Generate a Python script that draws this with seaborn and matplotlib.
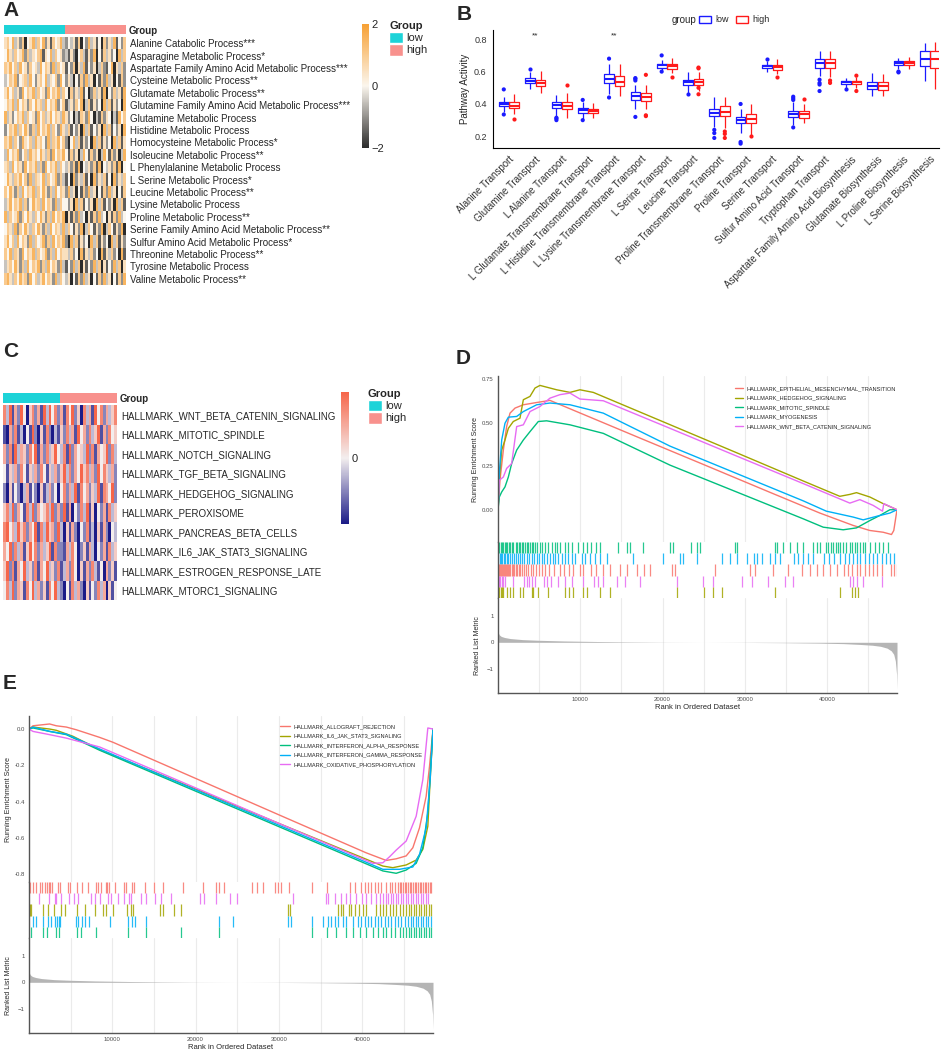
import numpy as np
import pandas as pd
import matplotlib
matplotlib.use('Agg')
import matplotlib.pyplot as plt
from matplotlib.colors import LinearSegmentedColormap, ListedColormap
from matplotlib.patches import Patch
from matplotlib.ticker import FormatStrFormatter
import seaborn as sns

sns.set_theme(style='white')
plt.rcParams['font.family'] = ['Liberation Sans', 'DejaVu Sans']

# ==================== data: panel A (amino acid metabolism heatmap) ====================
rows_a = ['Alanine Catabolic Process***', 'Asparagine Metabolic Process*',
          'Aspartate Family Amino Acid Metabolic Process***', 'Cysteine Metabolic Process**',
          'Glutamate Metabolic Process**', 'Glutamine Family Amino Acid Metabolic Process***',
          'Glutamine Metabolic Process', 'Histidine Metabolic Process',
          'Homocysteine Metabolic Process*', 'Isoleucine Metabolic Process**',
          'L Phenylalanine Metabolic Process', 'L Serine Metabolic Process*',
          'Leucine Metabolic Process**', 'Lysine Metabolic Process', 'Proline Metabolic Process**',
          'Serine Family Amino Acid Metabolic Process**', 'Sulfur Amino Acid Metabolic Process*',
          'Threonine Metabolic Process**', 'Tyrosine Metabolic Process', 'Valine Metabolic Process**']
# one digit per sample (low samples, then high samples)
heat_a_low = ["675846371568475836275684", "586475683746578265847563", "768574856375648576384756",
              "457683567485367584657385", "685746385768475638576847", "576848576375867485768357",
              "846357684756385746857648", "357684758637485768475386", "768475386574867538476857",
              "485768357486758647385768", "674857638576847385768475", "586476857384765847568374",
              "758637485768475863748576", "468576847358674857638475", "847568375864758637485768",
              "576483758647586374857648", "685748576384756837485768", "758476385768475683748576",
              "467586374857683748576384", "786475867385746857638475"]
heat_a_high = ["354627153846251736482537", "426315742638152746351847", "253716482536147325816473",
               "364152738461527384615273", "517364825137462815374628", "246375814726351847263518",
               "635142763851427365142857", "472536184725361847253618", "315847263518472635184726",
               "527361485273614852736148", "463728154637281546372815", "251836472518364725183647",
               "384615273846152738461527", "536184725361847253618472", "162738451627384516273845",
               "475263814752638147526381", "318472635184726351847263", "647351826473518264735182",
               "253847162538471625384716", "461527384615273846152738"]

# ==================== data: panel B (transport / biosynthesis boxplots) ====================
cats_b = ['Alanine Transport', 'Glutamine Transport', 'L Alanine Transport',
          'L Glutamate Transmembrane Transport', 'L Histidine Transmembrane Transport',
          'L Lysine Transmembrane Transport', 'L Serine Transport', 'Leucine Transport',
          'Proline Transmembrane Transport', 'Proline Transport', 'Serine Transport',
          'Sulfur Amino Acid Transport', 'Tryptophan Transport',
          'Aspartate Family Amino Acid Biosynthesis', 'Glutamate Biosynthesis',
          'L Proline Biosynthesis', 'L Serine Biosynthesis']
# [lower whisker, q1, median, q3, upper whisker]
box_low = [[0.35, 0.385, 0.397, 0.41, 0.44], [0.49, 0.53, 0.545, 0.56, 0.60],
           [0.32, 0.375, 0.395, 0.41, 0.455], [0.31, 0.345, 0.36, 0.375, 0.41],
           [0.46, 0.53, 0.555, 0.585, 0.65], [0.37, 0.425, 0.45, 0.475, 0.52],
           [0.61, 0.625, 0.64, 0.65, 0.67], [0.47, 0.515, 0.535, 0.55, 0.595],
           [0.26, 0.325, 0.345, 0.37, 0.445], [0.22, 0.285, 0.30, 0.32, 0.37],
           [0.60, 0.62, 0.632, 0.64, 0.665], [0.27, 0.32, 0.34, 0.355, 0.41],
           [0.57, 0.625, 0.655, 0.68, 0.73], [0.50, 0.525, 0.535, 0.545, 0.56],
           [0.45, 0.495, 0.51, 0.535, 0.59], [0.615, 0.64, 0.655, 0.665, 0.685],
           [0.545, 0.635, 0.675, 0.725, 0.775]]
box_high = [[0.34, 0.375, 0.39, 0.41, 0.46], [0.465, 0.51, 0.53, 0.55, 0.605],
            [0.315, 0.37, 0.39, 0.415, 0.465], [0.315, 0.345, 0.355, 0.37, 0.405],
            [0.45, 0.51, 0.535, 0.57, 0.65], [0.37, 0.42, 0.445, 0.465, 0.52],
            [0.59, 0.615, 0.635, 0.65, 0.685], [0.48, 0.515, 0.535, 0.555, 0.60],
            [0.25, 0.325, 0.35, 0.385, 0.445], [0.21, 0.28, 0.305, 0.335, 0.40],
            [0.585, 0.61, 0.627, 0.64, 0.675], [0.28, 0.315, 0.335, 0.355, 0.40],
            [0.565, 0.625, 0.655, 0.68, 0.73], [0.50, 0.525, 0.535, 0.545, 0.565],
            [0.45, 0.485, 0.51, 0.535, 0.585], [0.615, 0.64, 0.652, 0.665, 0.69],
            [0.495, 0.625, 0.675, 0.725, 0.785]]
out_low = [[0.49, 0.335], [0.615], [0.30, 0.31, 0.315], [0.425, 0.30], [0.68, 0.44],
           [0.545, 0.555, 0.56, 0.32], [0.70, 0.60], [0.46], [0.24, 0.22, 0.19],
           [0.40, 0.165, 0.155], [0.68], [0.425, 0.435, 0.445, 0.255], [0.55, 0.53, 0.52, 0.48],
           [0.49], [], [0.60, 0.595], []]
out_high = [[0.305], [], [0.52], [], [], [0.58, 0.33, 0.325], [0.565], [0.62, 0.625, 0.50, 0.46],
            [0.23, 0.215, 0.19], [0.20], [0.565], [0.43], [0.545, 0.53], [0.575, 0.48], [], [], []]
signif_b = {'Glutamine Transport': '**', 'L Histidine Transmembrane Transport': '**'}

# ==================== data: panel C (hallmark heatmap) ====================
rows_c = ['HALLMARK_WNT_BETA_CATENIN_SIGNALING', 'HALLMARK_MITOTIC_SPINDLE',
          'HALLMARK_NOTCH_SIGNALING', 'HALLMARK_TGF_BETA_SIGNALING', 'HALLMARK_HEDGEHOG_SIGNALING',
          'HALLMARK_PEROXISOME', 'HALLMARK_PANCREAS_BETA_CELLS', 'HALLMARK_IL6_JAK_STAT3_SIGNALING',
          'HALLMARK_ESTROGEN_RESPONSE_LATE', 'HALLMARK_MTORC1_SIGNALING']
heat_c_low = ["73816284057261838472", "10627130418205172031", "62718365274816273584",
              "41536274153627415362", "20514203614205136240", "57382641738264573826",
              "78463857264817385628", "64827361584726358172", "58271648352716483527",
              "47382651748362517483"]
heat_c_high = ["61748250736184726357", "52736184627358162745", "37182645382716458273",
               "58372648573628475362", "47263817462538176482", "28160427381504261735",
               "30516204271305162043", "21637402516304261735", "13627405162731406251",
               "20417362051427360514"]

# ==================== data: panels D / E (GSEA) ====================
# running enrichment score: (rank in thousands, ES)
d_emt = [(0, 0), (0.24, 0.169), (0.65, 0.342), (1.05, 0.477), (1.46, 0.554), (2.07, 0.583),
         (3.08, 0.602), (4.7, 0.615), (6.32, 0.627), (8.75, 0.579), (16.85, 0.419), (24.95, 0.26),
         (33.05, 0.10), (39.12, -0.019), (43.17, -0.09), (45.2, -0.119), (46.82, -0.129),
         (47.83, -0.142), (48.11, -0.119), (48.5, 0)]
d_hedgehog = [(0, 0), (0.16, 0.169), (0.45, 0.342), (0.85, 0.40), (1.26, 0.467), (1.86, 0.506),
              (2.67, 0.525), (3.08, 0.631), (3.89, 0.65), (4.5, 0.698), (5.1, 0.713), (7.13, 0.688),
              (8.75, 0.673), (9.96, 0.688), (11.58, 0.673), (20.9, 0.488), (29.0, 0.327),
              (37.1, 0.165), (41.55, 0.077), (42.77, 0.088), (43.58, 0.098), (45.2, 0.073),
              (46.82, 0.035), (48.5, 0)]
d_mitotic = [(0, 0), (0.16, 0.073), (0.45, 0.102), (0.85, 0.131), (1.26, 0.188), (1.66, 0.265),
             (2.27, 0.342), (3.08, 0.40), (3.89, 0.448), (4.9, 0.506), (5.91, 0.51), (8.75, 0.487),
             (12.8, 0.438), (20.9, 0.256), (29.0, 0.102), (37.1, -0.052), (39.53, -0.10),
             (41.96, -0.115), (43.58, -0.104), (45.2, -0.062), (46.41, -0.033), (47.63, 0),
             (48.5, 0)]
d_myogenesis = [(0, 0), (0.16, 0.208), (0.45, 0.40), (0.85, 0.496), (1.26, 0.531), (2.27, 0.535),
                (3.08, 0.563), (4.7, 0.602), (6.32, 0.612), (8.75, 0.602), (12.8, 0.554),
                (20.9, 0.365), (29.0, 0.208), (37.1, 0.051), (39.9, -0.008), (43.17, -0.042),
                (44.39, -0.058), (46.0, -0.038), (47.63, -0.019), (48.5, 0)]
d_wnt = [(0, 0), (0.16, 0.169), (0.65, 0.188), (1.05, 0.237), (1.66, 0.265), (2.27, 0.477),
         (3.08, 0.487), (3.89, 0.563), (5.1, 0.592), (6.32, 0.64), (7.53, 0.66), (8.75, 0.669),
         (9.96, 0.635), (12.8, 0.625), (20.9, 0.467), (29.0, 0.308), (37.1, 0.15), (42.77, 0.038),
         (43.98, 0.058), (45.6, 0.025), (46.74, -0.008), (46.9, 0.035), (48.5, 0)]

e_allograft = [(0, 0), (0.48, 0.018), (2.48, 0.028), (3.28, 0.018), (4.48, 0.011), (5.68, -0.004),
               (8.48, -0.046), (10.08, -0.073), (20.48, -0.282), (30.48, -0.483), (40.48, -0.683),
               (42.88, -0.725), (44.08, -0.716), (45.28, -0.70), (46.08, -0.655), (46.88, -0.545),
               (47.68, -0.371), (48.08, -0.206), (48.5, 0)]
e_il6 = [(0, 0), (0.48, 0.011), (2.48, 0), (3.28, -0.007), (5.28, -0.04), (8.48, -0.114),
         (20.48, -0.34), (30.48, -0.53), (42.48, -0.756), (43.68, -0.765), (45.28, -0.75),
         (46.48, -0.723), (47.28, -0.664), (47.88, -0.536), (48.16, -0.279), (48.5, 0)]
e_ifna = [(0, 0), (0.48, 0.006), (2.48, -0.013), (4.48, -0.031), (8.48, -0.117), (20.48, -0.352),
          (30.48, -0.548), (42.48, -0.783), (44.08, -0.796), (45.28, -0.778), (46.48, -0.741),
          (47.28, -0.655), (47.88, -0.462), (48.5, 0)]
e_ifng = [(0, 0), (0.48, 0.011), (2.48, -0.013), (4.48, -0.028), (8.48, -0.11), (20.48, -0.345),
          (30.48, -0.54), (42.48, -0.774), (44.48, -0.774), (46.08, -0.761), (46.88, -0.692),
          (47.68, -0.545), (48.16, -0.279), (48.5, 0)]
e_oxphos = [(0, 0), (0.48, -0.013), (2.48, -0.031), (4.48, -0.05), (8.48, -0.099), (20.48, -0.334),
            (30.48, -0.53), (41.28, -0.741), (42.48, -0.738), (43.28, -0.705), (44.08, -0.668),
            (45.28, -0.618), (46.48, -0.481), (47.28, -0.279), (47.88, 0.006), (48.5, 0)]

# gene-set hits (rank in thousands)
hits_d_mitotic = [0.04, 0.16, 0.32, 0.49, 0.65, 0.85, 0.97, 1.13, 1.3, 1.46, 1.66, 1.86, 2.19, 2.35,
                  2.51, 2.67, 2.88, 3.08, 3.28, 3.48, 3.69, 3.89, 4.09, 4.29, 4.5, 4.7, 5.1, 5.31,
                  5.71, 6.12, 6.52, 6.93, 7.21, 7.53, 8.14, 8.55, 8.95, 9.76, 10.29, 10.77, 11.26,
                  11.91, 12.39, 14.62, 15.63, 16.04, 17.66, 20.9, 21.3, 23.41, 24.14, 24.54, 28.8,
                  29.0, 33.66, 33.86, 34.67, 35.48, 36.29, 37.1, 38.31, 38.72, 39.12, 39.85, 40.14,
                  40.42, 40.74, 41.07, 41.35, 41.63, 41.96, 42.36, 42.77, 43.09, 43.38, 43.66, 43.98,
                  44.31, 44.59, 45.2, 45.81, 46.33, 46.82, 47.43]
hits_d_myogenesis = [0.04, 0.2, 0.36, 0.53, 0.69, 0.89, 1.05, 1.26, 1.46, 1.7, 1.94, 2.19, 2.47,
                     2.67, 2.96, 3.2, 3.48, 3.81, 4.09, 4.37, 4.7, 5.02, 5.31, 5.59, 5.91, 6.32,
                     6.64, 6.97, 7.33, 7.73, 8.14, 8.55, 8.95, 9.36, 10.17, 10.57, 11.18, 11.79,
                     12.39, 13.2, 16.44, 20.09, 22.11, 22.52, 24.14, 27.18, 28.19, 29.0, 30.21, 31.1,
                     31.51, 32.04, 33.05, 33.66, 34.27, 35.97, 36.5, 37.1, 37.71, 38.31, 39.61,
                     40.26, 40.82, 41.63, 42.16, 42.69, 43.17, 43.58, 44.06, 44.59, 45.11, 45.6,
                     46.09, 46.62, 47.14, 47.63, 48.11]
hits_d_emt = [0.04, 0.16, 0.28, 0.41, 0.53, 0.65, 0.77, 0.89, 1.01, 1.13, 1.26, 1.38, 1.5, 1.66,
              1.82, 1.98, 2.15, 2.31, 2.51, 2.71, 2.92, 3.16, 3.4, 3.69, 3.97, 4.29, 4.62, 4.98,
              5.35, 5.75, 6.16, 6.8, 7.53, 8.02, 8.59, 9.15, 9.96, 10.37, 11.26, 11.91, 12.72,
              13.61, 14.82, 15.63, 16.93, 17.74, 18.47, 21.1, 21.51, 26.37, 30.62, 31.23, 33.46,
              35.28, 36.9, 37.91, 38.72, 39.53, 40.34, 41.15, 42.04, 42.57, 43.09, 43.58, 44.06,
              44.59, 45.11, 45.6, 46.09, 46.62, 47.83, 48.11, 48.44]
hits_d_wnt = [0.08, 0.24, 0.45, 0.65, 0.89, 1.86, 3.16, 3.48, 3.81, 4.13, 4.54, 5.59, 5.99, 6.4,
              7.33, 8.14, 8.95, 10.37, 11.66, 12.19, 12.72, 14.42, 15.43, 17.25, 21.71, 24.95,
              26.16, 29.61, 30.82, 32.85, 34.87, 35.88, 42.77, 43.17, 43.58, 44.39, 46.62]
hits_d_hedgehog = [0.04, 0.16, 0.32, 0.49, 0.65, 1.05, 1.46, 1.78, 2.67, 3.08, 4.09, 4.29, 4.9,
                   6.12, 8.14, 8.67, 9.15, 10.29, 10.77, 12.39, 13.61, 21.79, 25.07, 26.16, 27.26,
                   33.66, 41.63, 42.97, 43.38, 43.78]

hits_e_allograft = [0.08, 0.48, 0.88, 1.28, 1.6, 1.88, 2.16, 2.4, 2.56, 2.8, 3.48, 3.76, 4.68, 4.96,
                    5.76, 6.4, 7.08, 8.08, 8.32, 8.68, 9.2, 9.36, 9.6, 10.28, 11.36, 11.68, 12.4,
                    12.56, 13.88, 14.96, 16.08, 18.48, 20.88, 22.4, 22.8, 23.36, 26.8, 27.36, 28.08,
                    29.48, 29.88, 30.28, 31.2, 34.0, 35.76, 38.48, 39.08, 39.88, 40.28, 40.68, 41.08,
                    41.48, 41.88, 42.28, 42.88, 43.28, 43.6, 43.88, 44.28, 44.48, 44.68, 44.88,
                    45.08, 45.28, 45.48, 45.68, 45.88, 46.08, 46.28, 46.48, 46.68, 46.88, 47.08,
                    47.28, 47.48, 47.68, 47.88, 48.08, 48.3]
hits_e_oxphos = [1.2, 2.4, 3.08, 3.28, 3.88, 4.8, 5.36, 5.88, 7.48, 7.88, 8.48, 9.48, 9.88, 10.68,
                 11.36, 12.0, 12.28, 13.48, 14.08, 15.08, 15.88, 17.08, 20.48, 20.96, 22.4, 24.08,
                 24.96, 31.68, 35.68, 35.88, 36.68, 37.48, 38.08, 38.56, 39.28, 40.0, 40.48, 41.08,
                 41.68, 42.16, 42.5, 42.8, 43.1, 43.4, 43.7, 44.0, 44.3, 44.6, 44.9, 45.2, 45.5,
                 45.8, 46.1, 46.4, 46.7, 47.0, 47.3, 47.6, 47.9]
hits_e_il6 = [0.08, 0.28, 1.68, 2.28, 2.96, 3.88, 4.28, 5.76, 6.68, 7.88, 8.88, 9.2, 10.08, 11.76,
              12.28, 12.48, 15.68, 16.08, 17.36, 18.28, 31.08, 31.36, 37.08, 37.48, 37.68, 38.4,
              38.68, 39.08, 39.6, 40.08, 40.48, 41.68, 42.08, 42.48, 42.88, 43.28, 43.68, 44.08,
              44.48, 44.88, 45.3, 45.6, 45.9, 46.2, 46.5, 46.8, 47.1, 47.4, 47.7, 48.0, 48.3]
hits_e_ifng = [0.48, 0.88, 1.68, 2.28, 2.68, 3.08, 3.36, 3.6, 3.68, 5.6, 5.88, 6.4, 6.68, 7.2, 9.68,
               11.88, 12.4, 12.68, 14.0, 22.8, 24.48, 31.08, 31.48, 34.0, 35.28, 35.88, 36.28,
               36.68, 37.08, 37.68, 38.08, 38.88, 39.48, 39.88, 40.28, 40.68, 41.08, 41.48, 41.88,
               42.28, 42.68, 43.08, 43.48, 43.88, 44.28, 44.68, 45.08, 45.48, 45.8, 46.1, 46.4,
               46.7, 47.0, 47.3, 47.6, 47.9, 48.2]
hits_e_ifna = [0.28, 1.68, 2.2, 3.28, 3.6, 5.8, 6.28, 8.0, 11.88, 14.0, 18.28, 22.8, 34.0, 35.76,
               36.88, 38.08, 38.88, 39.68, 40.48, 41.28, 41.88, 42.48, 42.88, 43.48, 43.88, 44.48,
               44.88, 45.28, 45.6, 45.9, 46.2, 46.5, 46.8, 47.1, 47.4, 47.7, 48.0, 48.3]

# ranked list metric (rank in thousands, metric)
metric_rank = [0, 0.05, 0.15, 0.4, 0.8, 1.5, 3, 5, 8, 12, 16, 20, 25, 30, 35, 39, 42, 44, 45.5,
               46.5, 47.3, 47.8, 48.1, 48.3, 48.45, 48.5]
metric_val = [0.55, 0.35, 0.28, 0.22, 0.18, 0.14, 0.10, 0.075, 0.05, 0.03, 0.015, 0.005, 0.0,
              -0.005, -0.015, -0.03, -0.05, -0.08, -0.11, -0.15, -0.22, -0.32, -0.45, -0.7, -1.2,
              -1.75]
n_genes = 48500

# ==================== colours ====================
c_low, c_high = '#1DD3D8', '#F8918D'
cmap_a = LinearSegmentedColormap.from_list('a', ['#2B2B2B', '#FBF6EE', '#F7A033'])
cmap_c = LinearSegmentedColormap.from_list('c', ['#1B1B87', '#F3EEEE', '#F6664A'])
hue5 = ['#F8766D', '#A3A500', '#00BF7D', '#00B0F6', '#E76BF3']
text_grey = '#4D4D4D'

W, H = 941, 1052
fig = plt.figure(figsize=(W / 100, H / 100), dpi=100)


def add_ax(x0, y0, x1, y1):
    # axes from pixel box (top-left origin)
    return fig.add_axes([x0 / W, 1 - y1 / H, (x1 - x0) / W, (y1 - y0) / H])


def digits_to_matrix(low, high, centre):
    mat = [[(int(ch) - centre) / 2 for ch in lo + hi] for lo, hi in zip(low, high)]
    return np.clip(np.array(mat, dtype=float), -2, 2)


def draw_heatmap(box_bar, box_map, box_cbar, low, high, centre, rows, cmap, ticks, fs):
    mat = digits_to_matrix(low, high, centre)
    n_low, n_high = len(low[0]), len(high[0])
    ax_bar = add_ax(*box_bar)
    sns.heatmap(pd.DataFrame([[0] * n_low + [1] * n_high]), cmap=ListedColormap([c_low, c_high]),
                cbar=False, xticklabels=False, yticklabels=['Group'], ax=ax_bar)
    ax_bar.yaxis.tick_right()
    ax_bar.tick_params(axis='y', length=0, pad=2)
    for t in ax_bar.get_yticklabels():
        t.set_rotation(0)
        t.set_fontweight('bold')
        t.set_fontsize(fs)
    ax = add_ax(*box_map)
    cax = add_ax(*box_cbar)
    sns.heatmap(pd.DataFrame(mat, index=rows), cmap=cmap, vmin=-2, vmax=2, ax=ax, cbar_ax=cax,
                xticklabels=False, yticklabels=True)
    ax.yaxis.tick_right()
    ax.tick_params(axis='y', length=0, pad=3, labelsize=fs)
    for t in ax.get_yticklabels():
        t.set_rotation(0)
    cbar = ax.collections[0].colorbar
    cbar.outline.set_visible(False)
    cbar.set_ticks(ticks)
    cax.tick_params(length=0, labelsize=8, pad=2)
    return ax


def group_legend(x, y):
    fig.legend(handles=[Patch(facecolor=c_low, label='low'), Patch(facecolor=c_high, label='high')],
               title='Group', loc='upper left', bbox_to_anchor=(x / W, 1 - y / H), frameon=False,
               fontsize=8, title_fontproperties={'weight': 'bold', 'size': 8}, alignment='left',
               handlelength=1.25, handleheight=1.25, handletextpad=0.3, labelspacing=0.05,
               borderpad=0, borderaxespad=0)


# ==================== A ====================
draw_heatmap((4, 25, 126, 34), (4, 37, 126, 285), (362, 24, 369, 148),
             heat_a_low, heat_a_high, 5, rows_a, cmap_a, [-2, 0, 2], 7)
group_legend(389, 21)

# ==================== B ====================
rec = []
for cat, lo, hi in zip(cats_b, box_low, box_high):
    rec += [(cat, 'low', v) for v in lo] + [(cat, 'high', v) for v in hi]
df_box = pd.DataFrame(rec, columns=['pathway', 'group', 'activity'])
rec = []
for cat, lo, hi in zip(cats_b, out_low, out_high):
    rec += [(cat, 'low', v) for v in lo] + [(cat, 'high', v) for v in hi]
df_out = pd.DataFrame(rec, columns=['pathway', 'group', 'activity'])
pal_b = {'low': '#1A1AFF', 'high': '#FF1A1A'}

ax_b = add_ax(493, 30, 939, 148)
sns.boxplot(data=df_box, x='pathway', y='activity', hue='group', order=cats_b,
            hue_order=['low', 'high'], palette=pal_b, fill=False, whis=(0, 100), width=0.8,
            gap=0.08, showfliers=False, linewidth=0.9, medianprops={'linewidth': 1.5},
            capprops={'linewidth': 0}, legend=False, ax=ax_b)
sns.stripplot(data=df_out, x='pathway', y='activity', hue='group', order=cats_b,
              hue_order=['low', 'high'], palette=pal_b, dodge=True, jitter=False, size=3,
              linewidth=0, legend=False, ax=ax_b)
for i, cat in enumerate(cats_b):
    if cat in signif_b:
        ax_b.text(i, 0.80, signif_b[cat], ha='center', va='bottom', fontsize=6)
ax_b.set_xlim(-0.61, 16.34)
ax_b.set_ylim(0.128, 0.857)
ax_b.set_yticks([0.2, 0.4, 0.6, 0.8])
ax_b.yaxis.set_major_formatter(FormatStrFormatter('%.1f'))
ax_b.set_xlabel('')
ax_b.set_ylabel('Pathway Activity', fontsize=7, labelpad=3)
ax_b.tick_params(axis='both', length=3, width=0.6, labelsize=6.5, colors='#333333', pad=1.5)
plt.setp(ax_b.get_xticklabels(), rotation=45, ha='right', rotation_mode='anchor', fontsize=7)
sns.despine(ax=ax_b)
for s in ('left', 'bottom'):
    ax_b.spines[s].set_color('black')
    ax_b.spines[s].set_linewidth(0.8)
fig.text(672 / W, 1 - 20 / H, 'group', fontsize=7, va='center', ha='left')
ax_b.legend(handles=[Patch(facecolor='white', edgecolor=pal_b['low'], label='low'),
                     Patch(facecolor='white', edgecolor=pal_b['high'], label='high')],
            ncol=2, loc='center left', bbox_to_anchor=(699 / W, 1 - 20 / H),
            bbox_transform=fig.transFigure, frameon=False, fontsize=6.5, handlelength=1.3,
            handleheight=0.9, handletextpad=0.5, columnspacing=0.8, borderpad=0, borderaxespad=0)

# ==================== C ====================
draw_heatmap((3, 393, 117, 403), (3, 405, 117, 600), (341, 392, 349, 524),
             heat_c_low, heat_c_high, 4, rows_c, cmap_c, [0], 7)
group_legend(368, 389)


# ==================== D / E ====================
def gsea_panel(px, es_sets, labels, hit_rows, hit_colors, es_ylim, es_ticks, es_fmt,
               leg_anchor, leg_hl):
    x0, x1, y_top, y_rug, y_met, y_bot = px
    ax_es = add_ax(x0, y_top, x1, y_rug)
    ax_rug = add_ax(x0, y_rug, x1, y_met)
    ax_m = add_ax(x0, y_met, x1, y_bot)

    rec = []
    for name, pts in zip(labels, es_sets):
        rec += [(name, r * 1000, e) for r, e in pts]
    df = pd.DataFrame(rec, columns=['set', 'rank', 'es'])
    sns.lineplot(data=df, x='rank', y='es', hue='set', hue_order=labels, palette=hue5,
                 sort=False, estimator=None, linewidth=1.0, ax=ax_es)
    h, l = ax_es.get_legend_handles_labels()
    ax_es.legend(h, l, loc='upper left', bbox_to_anchor=(leg_anchor[0] / W, 1 - leg_anchor[1] / H),
                 bbox_transform=fig.transFigure, frameon=False, fontsize=4.1,
                 handlelength=leg_hl, handletextpad=0.6, labelspacing=0.8, borderpad=0,
                 borderaxespad=0)

    n = len(hit_rows)
    for i, (hits, col) in enumerate(zip(hit_rows, hit_colors)):
        ax_rug.vlines(np.array(hits) * 1000, n - 1 - i, n - i, color=col, linewidth=0.9, alpha=0.85)
    ax_rug.set_ylim(0, n)

    ax_m.fill_between(np.array(metric_rank) * 1000, 0, metric_val, color='#B5B5B5', linewidth=0)
    ax_m.set_ylim(-1.9, 1.66)
    ax_m.set_yticks([-1, 0, 1])

    for ax in (ax_es, ax_rug, ax_m):
        ax.set_xlim(0, n_genes)
        ax.set_xlabel('')
        for s in ('top', 'right'):
            ax.spines[s].set_visible(False)
        ax.spines['left'].set_color('#555555')
        ax.spines['left'].set_linewidth(1.0)
        ax.set_xticks([10000, 20000, 30000, 40000])
        ax.set_xticks([5000, 15000, 25000, 35000, 45000], minor=True)
        ax.tick_params(axis='y', length=2, width=0.5, labelsize=4.3, colors=text_grey, pad=1)
    for ax in (ax_es, ax_m):
        ax.grid(axis='x', which='both', color='#EBEBEB', linewidth=0.8)
        ax.set_axisbelow(True)
    ax_es.spines['bottom'].set_visible(False)
    ax_rug.spines['bottom'].set_visible(False)
    ax_es.tick_params(axis='x', which='both', length=0, labelbottom=False)
    ax_rug.tick_params(axis='both', which='both', length=0, labelbottom=False, labelleft=False)
    ax_m.spines['bottom'].set_color('#555555')
    ax_m.spines['bottom'].set_linewidth(1.0)
    ax_m.tick_params(axis='x', which='major', length=2, width=0.5, labelsize=4.3,
                     colors=text_grey, pad=1)
    ax_m.tick_params(axis='x', which='minor', length=0)

    ax_es.set_ylim(*es_ylim)
    ax_es.set_yticks(es_ticks)
    ax_es.yaxis.set_major_formatter(FormatStrFormatter(es_fmt))
    ax_es.set_ylabel('Running Enrichment Score', fontsize=5, labelpad=2)
    ax_m.set_ylabel('Ranked List Metric', fontsize=5, labelpad=4)
    ax_m.set_xlabel('Rank in Ordered Dataset', fontsize=5.5, labelpad=1)
    return ax_es


labels_d = ['HALLMARK_EPITHELIAL_MESENCHYMAL_TRANSITION', 'HALLMARK_HEDGEHOG_SIGNALING',
            'HALLMARK_MITOTIC_SPINDLE', 'HALLMARK_MYOGENESIS', 'HALLMARK_WNT_BETA_CATENIN_SIGNALING']
gsea_panel((498, 897, 376, 542, 598, 693),
           [d_emt, d_hedgehog, d_mitotic, d_myogenesis, d_wnt], labels_d,
           [hits_d_mitotic, hits_d_myogenesis, hits_d_emt, hits_d_wnt, hits_d_hedgehog],
           [hue5[2], hue5[3], hue5[0], hue5[4], hue5[1]],
           (-0.185, 0.767), [0, 0.25, 0.5, 0.75], '%.2f', (735, 386), 1.4)

labels_e = ['HALLMARK_ALLOGRAFT_REJECTION', 'HALLMARK_IL6_JAK_STAT3_SIGNALING',
            'HALLMARK_INTERFERON_ALPHA_RESPONSE', 'HALLMARK_INTERFERON_GAMMA_RESPONSE',
            'HALLMARK_OXIDATIVE_PHOSPHORYLATION']
gsea_panel((29, 433, 716, 882, 938, 1033),
           [e_allograft, e_il6, e_ifna, e_ifng, e_oxphos], labels_e,
           [hits_e_allograft, hits_e_oxphos, hits_e_il6, hits_e_ifng, hits_e_ifna],
           [hue5[0], hue5[4], hue5[1], hue5[3], hue5[2]],
           (-0.844, 0.072), [-0.8, -0.6, -0.4, -0.2, 0.0], '%.1f', (280, 724), 1.75)

# ==================== panel letters ====================
for letter, x, y in [('A', 3, 1), ('B', 457, 5), ('C', 3, 342), ('D', 456, 349), ('E', 3, 674)]:
    fig.text(x / W, 1 - y / H, letter, fontsize=15, fontweight='bold', va='top', ha='left')

fig.savefig('out.png', dpi=100)
